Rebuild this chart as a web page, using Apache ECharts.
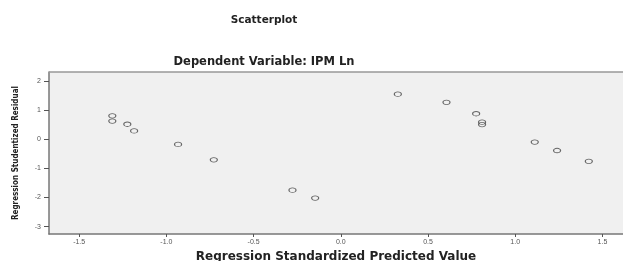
<!DOCTYPE html>
<html>
<head>
<meta charset="utf-8">
<script src="https://cdn.jsdelivr.net/npm/echarts@6/dist/echarts.min.js"></script>
<style>
  html, body { margin: 0; padding: 0; background: #fff; }
  #chart { width: 623px; height: 261px; }
</style>
</head>
<body>
<div id="chart"></div>
<script>
// predicted (x) vs studentized residual (y)
const predicted = [-1.310, -1.310, -1.224, -1.185, -0.933, -0.728, -0.277, -0.147,
                   0.327, 0.606, 0.776, 0.810, 0.810, 1.112, 1.240, 1.422]
const residual = [0.80, 0.62, 0.51, 0.28, -0.18, -0.71, -1.75, -2.02,
                  1.54, 1.26, 0.87, 0.58, 0.50, -0.10, -0.39, -0.76]
const xTicks = [-1.5, -1.0, -0.5, 0.0, 0.5, 1.0, 1.5]
const yTicks = [-3, -2, -1, 0, 1, 2]

const points = predicted.map(function (x, i) { return [x, residual[i]] })

const chart = echarts.init(document.getElementById('chart'))
const tickFont = { fontSize: 7, color: '#555', fontFamily: 'Liberation Sans' }

chart.setOption({
  animation: false,
  title: [
    {
      text: 'Scatterplot',
      left: 259, top: 10,
      textAlign: 'center',
      textStyle: { fontSize: 10.5, fontWeight: 'bold', color: '#222', fontFamily: 'DejaVu Sans' }
    },
    {
      text: 'Dependent Variable: IPM Ln',
      left: 259, top: 51,
      textAlign: 'center',
      textStyle: { fontSize: 11.5, fontWeight: 'bold', color: '#222', fontFamily: 'DejaVu Sans' }
    }
  ],
  grid: {
    left: 49, right: 0, top: 72, bottom: 27,
    outerBoundsMode: 'none', containLabel: false,
    show: true, backgroundColor: '#f0f0f0', borderWidth: 0
  },
  xAxis: {
    type: 'value',
    min: -1.673, max: 1.618,
    name: 'Regression Standardized Predicted Value',
    nameLocation: 'middle', nameGap: 16,
    nameTextStyle: { fontSize: 12, fontWeight: 'bold', color: '#222', fontFamily: 'DejaVu Sans' },
    splitLine: { show: false },
    axisLine: { show: true, onZero: false, lineStyle: { color: '#777', width: 1.5 } },
    axisTick: { show: true, length: 3, customValues: xTicks, lineStyle: { color: '#555' } },
    axisLabel: Object.assign({ customValues: xTicks, margin: 5, formatter: function (v) { return v.toFixed(1) } }, tickFont)
  },
  yAxis: {
    type: 'value',
    min: -3.25, max: 2.30,
    name: 'Regression Studentized Residual',
    nameLocation: 'middle', nameGap: 29,
    nameTextStyle: { fontSize: 8, fontWeight: 'bold', color: '#222', fontFamily: 'DejaVu Sans Condensed, Liberation Sans' },
    splitLine: { show: false },
    axisLine: { show: true, onZero: false, lineStyle: { color: '#777', width: 1.5 } },
    axisTick: { show: true, length: 5, customValues: yTicks, lineStyle: { color: '#555' } },
    axisLabel: Object.assign({ customValues: yTicks, margin: 8 }, tickFont)
  },
  series: [
    {
      type: 'scatter',
      data: points,
      symbol: 'circle',
      symbolSize: [7, 4.5],
      itemStyle: { color: 'rgba(0,0,0,0)', borderColor: '#444', borderWidth: 1 }
    },
    {
      // top frame line
      type: 'line',
      data: [],
      markLine: {
        silent: true, symbol: 'none', label: { show: false },
        lineStyle: { color: '#999', width: 1.5, type: 'solid' },
        data: [{ yAxis: 2.30 }]
      }
    }
  ]
})
</script>
</body>
</html>
